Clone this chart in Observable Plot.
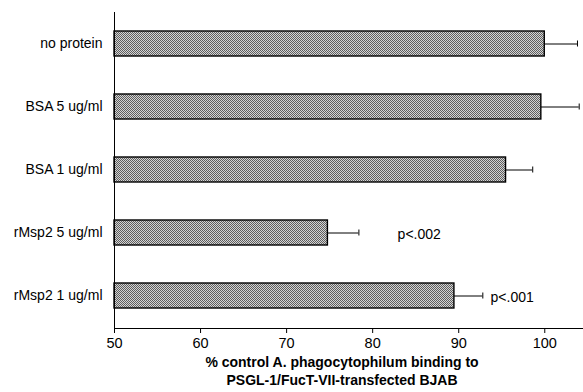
<!DOCTYPE html>
<html><head><meta charset="utf-8">
<script src="https://cdn.jsdelivr.net/npm/d3@7"></script>
<script src="https://cdn.jsdelivr.net/npm/@observablehq/plot@0.6"></script>
<style>
body{margin:0;background:#fff;font-family:"Liberation Sans",Arial,sans-serif;}
#title{position:absolute;left:114px;width:456px;top:353px;text-align:center;font-weight:bold;font-size:14px;line-height:18px;color:#000;}
</style></head>
<body>
<div id="chart"></div>
<div id="title">% control A. phagocytophilum binding to<br>PSGL-1/FucT-VII-transfected BJAB</div>
<script>
const categories = ["no protein", "BSA 5 ug/ml", "BSA 1 ug/ml", "rMsp2 5 ug/ml", "rMsp2 1 ug/ml"];
const means = [100, 99.6, 95.5, 74.8, 89.5];
const errors = [3.8, 4.4, 3.1, 3.6, 3.3];
const pLabels = ["", "", "", "p<.002", "p<.001"];
const pLabelX = [0, 0, 0, 82.9, 93.7];
const xTicks = [50, 60, 70, 80, 90, 100];

const data = categories.map((c, i) => ({cat: c, mean: means[i], hi: means[i] + errors[i], p: pLabels[i], px: pLabelX[i]}));
const pData = data.filter(d => d.p);

const svg = Plot.plot({
  width: 583,
  height: 352,
  marginLeft: 114,
  marginRight: 0,
  marginTop: 12,
  marginBottom: 24,
  style: {fontFamily: "'Liberation Sans', Arial, sans-serif", fontSize: "13px", color: "#000", background: "#fff"},
  x: {domain: [50, 104.5], label: null},
  y: {domain: categories, paddingInner: 0.6, paddingOuter: 0.3, label: null},
  marks: [
    Plot.barX(data, {x1: 50, x2: "mean", y: "cat", fill: "url(#dither)", stroke: "#000", strokeWidth: 1.4}),
    Plot.ruleY(data, {x1: "mean", x2: "hi", y: "cat", stroke: "#000", strokeWidth: 1}),
    Plot.tickX(data, {x: "hi", y: "cat", insetTop: 9.5, insetBottom: 9.5, stroke: "#000", strokeWidth: 1}),
    Plot.text(pData, {x: "px", y: "cat", text: "p", textAnchor: "start", dy: 2, fontSize: 14}),
    Plot.ruleX([50], {stroke: "#000", strokeWidth: 1}),
    Plot.axisX({ticks: xTicks, tickSize: 5, tickPadding: 4, fontSize: 14.5, label: null, tickFormat: d => d}),
    Plot.axisY({tickSize: 0, tickPadding: 12, fontSize: 14, label: null}),
    Plot.frame({anchor: "bottom", stroke: "#000"})
  ]
});

const ns = "http://www.w3.org/2000/svg";
const defs = document.createElementNS(ns, "defs");
const pat = document.createElementNS(ns, "pattern");
pat.setAttribute("id", "dither");
pat.setAttribute("width", "2");
pat.setAttribute("height", "2");
pat.setAttribute("patternUnits", "userSpaceOnUse");
const bg = document.createElementNS(ns, "rect");
bg.setAttribute("width", "2"); bg.setAttribute("height", "2"); bg.setAttribute("fill", "#d4d4d4");
const a = document.createElementNS(ns, "rect");
a.setAttribute("width", "1"); a.setAttribute("height", "1"); a.setAttribute("fill", "#5e5e5e");
const b = document.createElementNS(ns, "rect");
b.setAttribute("x", "1"); b.setAttribute("y", "1"); b.setAttribute("width", "1"); b.setAttribute("height", "1"); b.setAttribute("fill", "#5e5e5e");
pat.appendChild(bg); pat.appendChild(a); pat.appendChild(b);
defs.appendChild(pat);
svg.insertBefore(defs, svg.firstChild);
document.getElementById("chart").appendChild(svg);
</script>
</body></html>
